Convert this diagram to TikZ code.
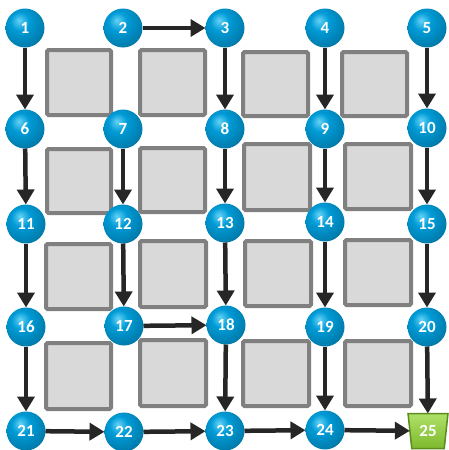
\documentclass[tikz,border=0pt]{standalone}
\usepackage{fontspec}
\setmainfont{Carlito}
\usetikzlibrary{arrows.meta,shapes.geometric}
\definecolor{sphhi}{RGB}{100,210,245}
\definecolor{sphmid}{RGB}{0,155,215}
\definecolor{sphdark}{RGB}{0,60,100}
\definecolor{cellline}{RGB}{128,128,128}
\definecolor{cellfill}{RGB}{217,217,217}
\definecolor{arrowgray}{RGB}{38,38,38}
\definecolor{goalfill}{RGB}{125,185,45}
\definecolor{goaltop}{RGB}{175,225,105}
\definecolor{goalline}{RGB}{90,140,30}
\pgfdeclareradialshading{bluesphere}{\pgfpoint{-8bp}{10bp}}{color(0bp)=(sphhi); color(12bp)=(sphmid); color(30bp)=(sphmid!80!black); color(42bp)=(sphdark); color(70bp)=(sphdark)}
\tikzset{
  ball/.style={circle, shading=bluesphere, minimum size=39pt, inner sep=0pt, outer sep=0pt,
    text=white, font=\fontsize{17}{17}\selectfont\bfseries},
  goal/.style={trapezium, trapezium stretches=true, trapezium left angle=80, trapezium right angle=80,
    shape border rotate=180, minimum width=40pt, minimum height=35pt, inner sep=0pt, outer sep=0pt,
    top color=goaltop, bottom color=goalfill, draw=goalline, line width=1.5pt,
    text=white, font=\fontsize{17}{17}\selectfont\bfseries},
  cell/.style={draw=cellline, fill=cellfill, line width=4pt, rounded corners=1.5pt},
  arr/.style={draw=arrowgray, line width=4.5pt, -{Triangle[width=17pt,length=15pt]}}
}
\begin{document}
\begin{tikzpicture}[x=1pt,y=-1pt]
    \useasboundingbox (0,0) rectangle (449,450);
    % obstacles
    \draw[cell] (47,50) rectangle (111,115); \draw[cell] (140,50) rectangle (205,115);
    \draw[cell] (243,52) rectangle (308,116); \draw[cell] (342,52) rectangle (407,116);
    \draw[cell] (47,149) rectangle (111,213); \draw[cell] (140,148) rectangle (205,212);
    \draw[cell] (244,144) rectangle (310,210); \draw[cell] (345,144) rectangle (411,209);
    \draw[cell] (46,244) rectangle (111,309); \draw[cell] (140,241) rectangle (206,307);
    \draw[cell] (245,241) rectangle (311,306); \draw[cell] (345,240) rectangle (411,305);
    \draw[cell] (46,343) rectangle (111,409); \draw[cell] (140,340) rectangle (206,406);
    \draw[cell] (243,341) rectangle (309,406); \draw[cell] (345,341) rectangle (411,406);
    % states
    \node[ball] (n1) at (25,28) {1}; \node[ball] (n2) at (123,28) {2};
    \node[ball] (n3) at (225,28) {3}; \node[ball] (n4) at (325,28) {4};
    \node[ball] (n5) at (427,28) {5};
    \node[ball] (n6) at (25,129) {6}; \node[ball] (n7) at (123,129) {7};
    \node[ball] (n8) at (225,129) {8}; \node[ball] (n9) at (325,129) {9};
    \node[ball] (n10) at (427,128) {10};
    \node[ball] (n11) at (26,224) {11}; \node[ball] (n12) at (123,224) {12};
    \node[ball] (n13) at (225,223) {13}; \node[ball] (n14) at (325,222) {14};
    \node[ball] (n15) at (427,224) {15};
    \node[ball] (n16) at (26,327) {16}; \node[ball] (n17) at (124,326) {17};
    \node[ball] (n18) at (226,325) {18}; \node[ball] (n19) at (325,327) {19};
    \node[ball] (n20) at (427,327) {20};
    \node[ball] (n21) at (26,431) {21}; \node[ball] (n22) at (124,432) {22};
    \node[ball] (n23) at (225,431) {23}; \node[ball] (n24) at (325,430) {24};
    \node[goal] (n25) at (428,431) {25};
    % moves
    \draw[arr] (n1)--(n6); \draw[arr] (n2)--(n3); \draw[arr] (n3)--(n8);
    \draw[arr] (n4)--(n9); \draw[arr] (n5)--(n10);
    \draw[arr] (n6)--(n11); \draw[arr] (n7)--(n12); \draw[arr] (n8)--(n13);
    \draw[arr] (n9)--(n14); \draw[arr] (n10)--(n15);
    \draw[arr] (n11)--(n16); \draw[arr] (n12)--(n17); \draw[arr] (n13)--(n18);
    \draw[arr] (n14)--(n19); \draw[arr] (n15)--(n20);
    \draw[arr] (n16)--(n21); \draw[arr] (n17)--(n18); \draw[arr] (n18)--(n23);
    \draw[arr] (n19)--(n24); \draw[arr] (n20)--(n25);
    \draw[arr] (n21)--(n22); \draw[arr] (n22)--(n23); \draw[arr] (n23)--(n24);
    \draw[arr] (n24)--(n25);
  \end{tikzpicture}
\end{document}
